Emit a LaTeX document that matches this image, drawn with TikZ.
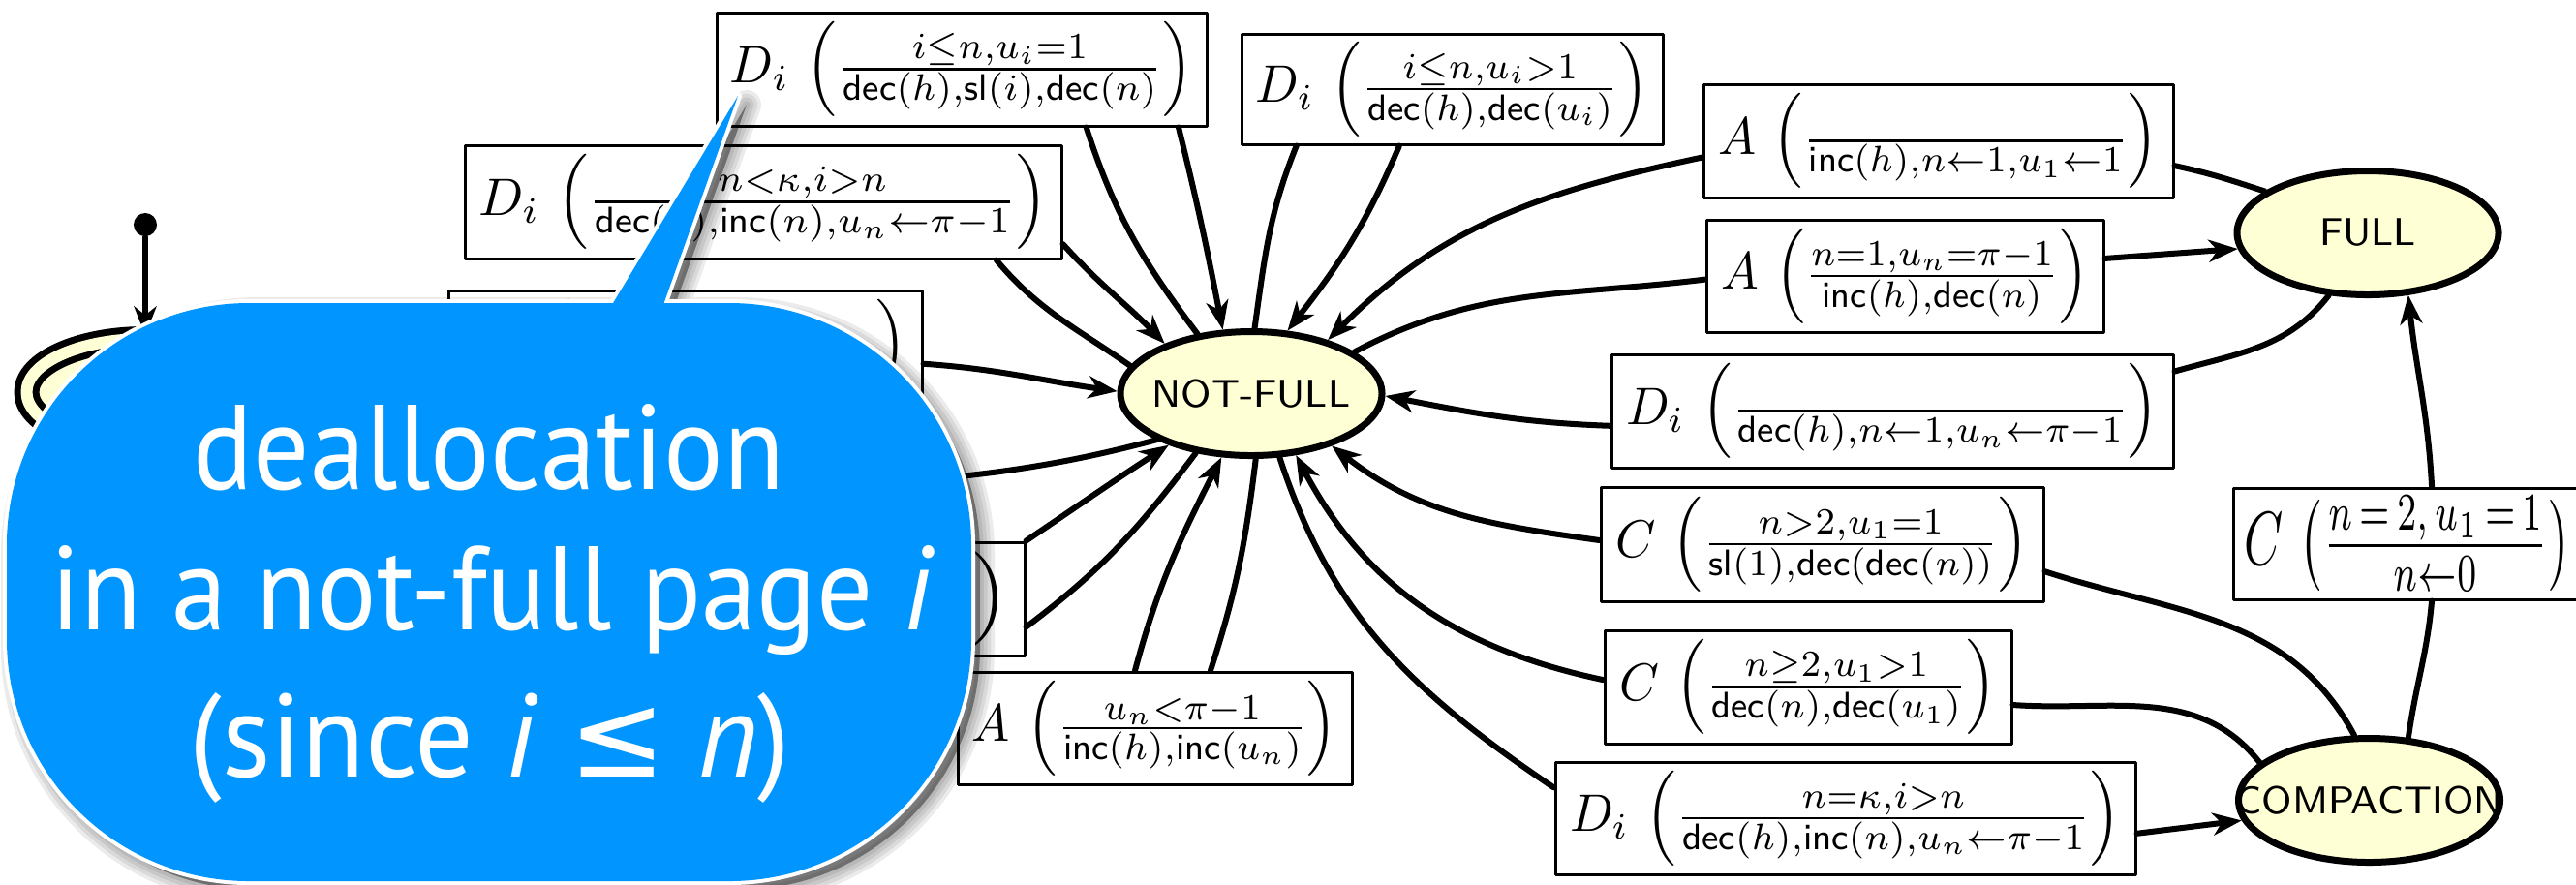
\documentclass[tikz,border=0pt]{standalone}
\usepackage{amsmath}
\usepackage{fontspec}
\usepackage{graphicx}
\usetikzlibrary{shapes.geometric,arrows.meta}
\newfontfamily\bubblefont{PT Sans}
\newfontfamily\symfont{DejaVu Sans}
\definecolor{bubbleblue}{RGB}{0,149,255}
\definecolor{statefill}{RGB}{255,255,214}
\newcommand{\trlabel}[2]{\resizebox*{#1}{19.6pt}{$#2$}}
\newcommand{\bubblepath}{[rounded corners=50pt] (7,3) rectangle (1003,600) [sharp corners] (627,590) -- (762,814) -- (682,590) -- cycle}
\begin{document}
\begin{tikzpicture}[x=0.2pt, y=0.2pt, line join=round, line cap=round, >={Stealth[length=6pt,width=4.6pt,inset=1.8pt]},
  stnode/.style={ellipse, draw, line width=1.4pt, fill=statefill, minimum width=54pt, minimum height=25.6pt, inner sep=0pt, font=\sffamily\fontsize{8pt}{9.6pt}\selectfont},
  lbox/.style={draw, line width=0.6pt, inner sep=0pt, minimum height=23.4pt},
  trline/.style={line width=1.2pt},
  trarrow/.style={trline, ->},
  bubbletext/.style={anchor=base, inner sep=0pt, text=white, font=\bubblefont\fontsize{24pt}{28pt}\selectfont}]
\useasboundingbox (0,0) rectangle (2660,913);

\node[stnode, double, double distance=2.4pt, double=statefill, minimum width=49pt, minimum height=22pt] (init) at (150,508) {};
\node[circle, fill, inner sep=0pt, minimum size=4.8pt] (dot) at (150,681) {};
\node[stnode] (nf) at (1292,506.5) {\makebox[0pt]{NOT-FULL}};
\node[stnode] (full) at (2445,672.5) {\makebox[0pt]{FULL}};
\node[stnode] (comp) at (2446.5,86.5) {\makebox[0pt]{COMPACTION}};
\coordinate (toinit) at (800,405);

\node[lbox, minimum width=101.2pt] (b1) at (993,841.5) {\trlabel{95.6pt}{D_i\,\left(\frac{i\leq n,u_i=1}{\textsf{dec}(h),\textsf{sl}(i),\textsf{dec}(n)}\right)}};
\node[lbox, minimum width=87pt, minimum height=22.8pt] (b2) at (1499.5,821) {\trlabel{81.2pt}{D_i\,\left(\frac{i\leq n,u_i>1}{\textsf{dec}(h),\textsf{dec}(u_i)}\right)}};
\node[lbox, minimum width=123.2pt] (b3) at (788,704.5) {\trlabel{117.4pt}{D_i\,\left(\frac{n<\kappa,i>n}{\textsf{dec}(h),\textsf{inc}(n),u_n\leftarrow\pi-1}\right)}};
\node[lbox, minimum width=97.8pt] (b4) at (707.5,554.5) {\trlabel{91.8pt}{\phantom{D_i}\,\left(\frac{\phantom{\textsf{dec}(h),\textsf{inc}(n),u_n}}{\phantom{\textsf{dec}(h),\textsf{inc}(n),u_n}}\right)}};
\node[lbox, minimum width=94pt] (b5) at (823,294.5) {\trlabel{88pt}{\phantom{D_i}\,\left(\frac{\phantom{n>\kappa,u_i=}1}{\phantom{\textsf{dec}(h),u_n}}\right)}};
\node[lbox, minimum width=81.4pt, minimum height=23.2pt] (b6) at (1192.5,161) {\trlabel{75.4pt}{A\,\left(\frac{u_n<\pi-1}{\textsf{inc}(h),\textsf{inc}(u_n)}\right)}};
\node[lbox, minimum width=97pt] (b7) at (2001.5,767.5) {\trlabel{91pt}{A\,\left(\frac{\vphantom{1}}{\textsf{inc}(h),n\leftarrow1,u_1\leftarrow1}\right)}};
\node[lbox, minimum width=82pt, minimum height=23.2pt] (b8) at (1967,628) {\trlabel{76pt}{A\,\left(\frac{n=1,u_n=\pi-1}{\textsf{inc}(h),\textsf{dec}(n)}\right)}};
\node[lbox, minimum width=116pt] (b9) at (1954,488.5) {\trlabel{110pt}{D_i\,\left(\frac{\vphantom{1}}{\textsf{dec}(h),n\leftarrow1,u_n\leftarrow\pi-1}\right)}};
\node[lbox, minimum width=91.4pt, minimum height=23.6pt] (b10) at (1881.5,351) {\trlabel{85.4pt}{C\,\left(\frac{n>2,u_1=1}{\textsf{sl}(1),\textsf{dec}(\textsf{dec}(n))}\right)}};
\node[lbox, minimum width=84pt] (b11) at (1867,203.5) {\trlabel{78pt}{C\,\left(\frac{n\geq2,u_1>1}{\textsf{dec}(n),\textsf{dec}(u_1)}\right)}};
\node[lbox, minimum width=119.8pt, minimum height=23.2pt] (b12) at (1905.5,68) {\trlabel{113.8pt}{D_i\,\left(\frac{n=\kappa,i>n}{\textsf{dec}(h),\textsf{inc}(n),u_n\leftarrow\pi-1}\right)}};
\node[lbox, minimum width=72pt, minimum height=23pt] (b13) at (2486,351.5) {\trlabel{67.4pt}{C\,\left(\frac{n\,{=}\,2,\,u_1\,{=}\,1}{n{\leftarrow}0}\right)}};

\draw[trarrow] (dot) -- (init);
\draw[trline] (init) to[out=10,in=180] (b4);
\draw[trarrow] (b4.-4) to[out=-4,in=172] (nf.179);
\draw[trline] (nf.206) to[out=195,in=5] (toinit);
\draw[trline] (nf.132) to[out=127,in=-72] (b1.-25);
\draw[trarrow] (b1.-15) to[out=-76,in=101] (nf.114);
\draw[trline] (nf.87) to[out=82,in=-112] (b2.-160);
\draw[trarrow] (b2.-133) to[out=-113,in=52] (nf.60);
\draw[trline] (nf.167) to[out=145,in=-50] (b3.-14);
\draw[trarrow] (b3.-8) to[out=-48,in=134] (nf.150);
\draw[trarrow] (b5.north east) to[out=34,in=213] (nf.212);
\draw[trline] (nf.227) to[out=233,in=37] (b5.-7);
\draw[trarrow] (b6.109) to[out=75,in=243] (nf.245);
\draw[trline] (nf.-86) to[out=-97,in=72] (b6.46);
\draw[trline] (full.158) to[out=162,in=-12] (b7.-6);
\draw[trarrow] (b7.184) to[out=192,in=45] (nf.35);
\draw[trline] (nf.22) to[out=28,in=187] (b8.181);
\draw[trarrow] (b8.5) -- (full.187);
\draw[trline] (full.238) to[out=232,in=16] (b9.8);
\draw[trarrow] (b9.183) to[out=178,in=-11] (nf.-1);
\draw[trline] (comp.103) to[out=118,in=-18] (b10.-7);
\draw[trarrow] (b10.179) to[out=172,in=-38] (nf.-33);
\draw[trline] (comp.161) to[out=128,in=-4] (b11.-5);
\draw[trarrow] (b11.178) to[out=168,in=-62] (nf.-54);
\draw[trline] (nf.-66) to[out=-72,in=146] (b12.174);
\draw[trarrow] (b12.-3) -- (comp.189);
\draw[trline] (comp.58) to[out=82,in=-95] (b13.-67);
\draw[trarrow] (b13.67) to[out=93,in=-84] (full.-57);

\foreach \k in {1,...,4}
  \draw[black, opacity=0.08, line width=\k*1.5pt, shift={(9,-9)}] \bubblepath;
\fill[black, opacity=0.4, shift={(9,-9)}] \bubblepath;
\draw[white, line width=1.6pt] \bubblepath;
\fill[bubbleblue] \bubblepath;
\node[bubbletext] (t1) at (505,408) {\resizebox{122pt}{17.6pt}{deallocation}};
\node[bubbletext] (t2) at (509,263) {\resizebox{182.4pt}{17.4pt}{in a not-full page \textit{i}}};
\node[bubbletext] (t3) at (506,111) {\resizebox{124.2pt}{17.4pt}{(since \textit{i} {\symfont ≤} \textit{n})}};
\end{tikzpicture}
\end{document}
